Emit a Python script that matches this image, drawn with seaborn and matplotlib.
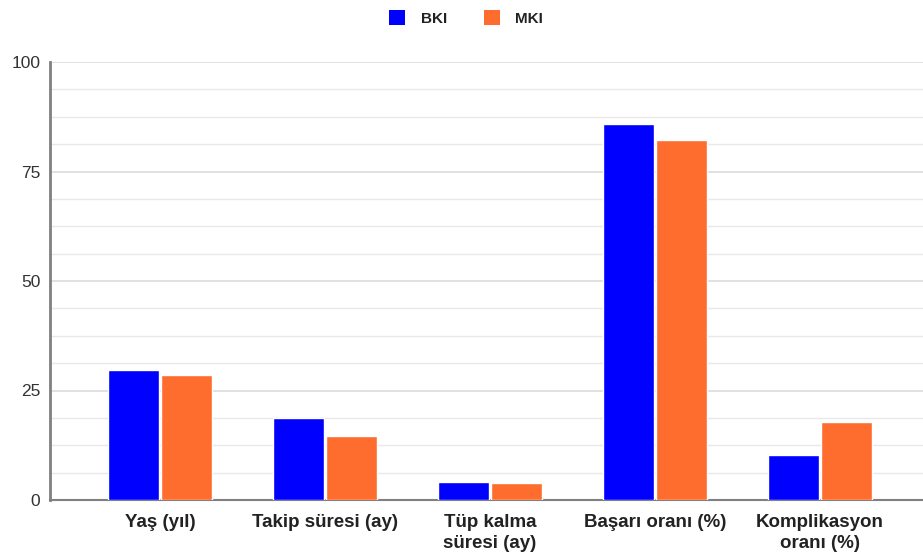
import matplotlib
matplotlib.use("Agg")
import matplotlib.pyplot as plt
from matplotlib.ticker import MultipleLocator
from matplotlib.patches import Patch
import seaborn as sns
import pandas as pd

categories = ["Yaş (yıl)", "Takip süresi (ay)", "Tüp kalma\nsüresi (ay)",
              "Başarı oranı (%)", "Komplikasyon\noranı (%)"]
bki_values = [29.7, 18.8, 4.2, 85.9, 10.2]
mki_values = [28.5, 14.7, 3.8, 82.1, 17.7]
series_names = ["BKI", "MKI"]
y_ticks = [0, 25, 50, 75, 100]

df = pd.DataFrame({
    "Kategori": categories * 2,
    "Değer": bki_values + mki_values,
    "Grup": [series_names[0]] * len(categories) + [series_names[1]] * len(categories),
})

sns.set_theme(style="white")
plt.rcParams["font.family"] = ["Liberation Sans", "DejaVu Sans"]

W, H = 923, 556
fig = plt.figure(figsize=(W / 100, H / 100), dpi=100)
ax = fig.add_axes([50 / W, 56 / H, 873 / W, 438 / H])

palette = {"BKI": "#0000FF", "MKI": "#FF6D2E"}
sns.barplot(data=df, x="Kategori", y="Değer", hue="Grup", palette=palette,
            width=0.65, gap=0.05, saturation=1, ax=ax, legend=False, zorder=3)

ax.set_ylim(0, 100)
ax.set_xlim(-0.667, 4.624)
ax.yaxis.set_minor_locator(MultipleLocator(6.25))
ax.set_yticks(y_ticks)
ax.grid(axis="y", which="major", color="#DCDCDC", linewidth=1.2, zorder=0)
ax.grid(axis="y", which="minor", color="#E8E8E8", linewidth=1.0, zorder=0)
ax.set_axisbelow(True)

for side in ["top", "right"]:
    ax.spines[side].set_visible(False)
ax.spines["left"].set_color("#808080")
ax.spines["left"].set_linewidth(2)
ax.spines["bottom"].set_color("#808080")
ax.spines["bottom"].set_linewidth(1.5)

ax.tick_params(axis="y", which="both", length=0, pad=7, labelsize=12.5, labelcolor="#333333")
ax.tick_params(axis="x", length=0, pad=10, labelsize=13.5, labelcolor="#222222")
for lbl in ax.get_xticklabels():
    lbl.set_fontweight("bold")
    lbl.set_linespacing(1.35)
ax.set_xlabel("")
ax.set_ylabel("")

# legend at top centre
handles = [Patch(facecolor=palette[n], edgecolor="none", label=n) for n in series_names]
fig.legend(handles=handles, loc="center", bbox_to_anchor=(0.505, 1 - 18 / H), ncol=2,
           frameon=False, handlelength=1.05, handleheight=1.05, columnspacing=2.4,
           handletextpad=1.0, prop={"weight": "bold", "size": 11},
           borderpad=0, labelcolor="#222222")

fig.savefig("out.png", dpi=100, facecolor="white")
